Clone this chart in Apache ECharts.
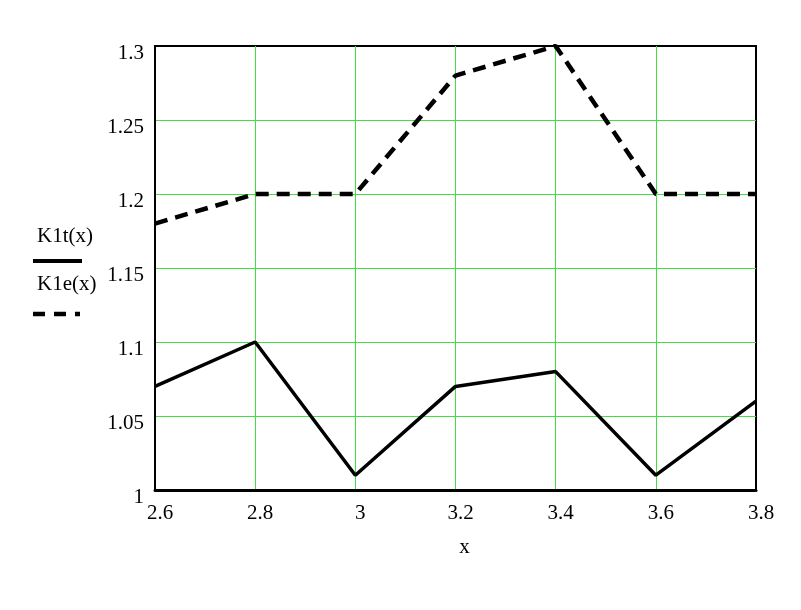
<!DOCTYPE html>
<html>
<head>
<meta charset="utf-8">
<script src="https://cdn.jsdelivr.net/npm/echarts@6/dist/echarts.min.js"></script>
<style>html,body{margin:0;padding:0;background:#fff}#c{width:801px;height:610px}</style>
</head>
<body>
<div id="c"></div>
<script>
var xValues = [2.6, 2.8, 3.0, 3.2, 3.4, 3.6, 3.8];
var k1t = [1.07, 1.10, 1.01, 1.07, 1.08, 1.01, 1.06];
var k1e = [1.18, 1.20, 1.20, 1.28, 1.30, 1.20, 1.20];
var seriesNames = ['K1t(x)', 'K1e(x)'];
var xAxisTitle = 'x';

var FONT = '"Liberation Serif", "Times New Roman", serif';
var chart = echarts.init(document.getElementById('c'), null, {renderer: 'canvas'});
function pairs(xs, ys) { return xs.map(function (x, i) { return [x, ys[i]]; }); }

chart.setOption({
  animation: false,
  backgroundColor: '#ffffff',
  grid: {left: 155, right: 45, top: 46, bottom: 120, show: true, borderColor: '#000', borderWidth: 2, containLabel: false},
  xAxis: {
    type: 'value', min: 2.6, max: 3.8, interval: 0.2,
    name: xAxisTitle, nameLocation: 'middle', nameGap: 47,
    nameTextStyle: {fontFamily: FONT, fontSize: 21, color: '#000', padding: [0, 0, 0, 18]},
    axisLine: {show: true, lineStyle: {color: '#000', width: 3}},
    axisTick: {show: false},
    axisLabel: {fontFamily: FONT, fontSize: 21, color: '#000', margin: 13, padding: [0, 0, 0, 10],
      formatter: function (v) { return String(Math.round(v * 10) / 10); }},
    splitLine: {show: true, showMinLine: false, showMaxLine: false, lineStyle: {color: '#3fe03f', width: 1}}
  },
  yAxis: {
    type: 'value', min: 1.0, max: 1.3, interval: 0.05,
    axisLine: {show: true, lineStyle: {color: '#000', width: 2}},
    axisTick: {show: false},
    axisLabel: {fontFamily: FONT, fontSize: 21, color: '#000', margin: 11, verticalAlign: 'top', lineHeight: 14,
      formatter: function (v) { return String(Math.round(v * 100) / 100); }},
    splitLine: {show: true, showMinLine: false, showMaxLine: false, lineStyle: {color: '#3fe03f', width: 1}}
  },
  series: [
    {name: seriesNames[0], type: 'line', data: pairs(xValues, k1t), showSymbol: false, symbol: 'none',
      lineStyle: {color: '#000', width: 3.5, type: 'solid'}, z: 5},
    {name: seriesNames[1], type: 'line', data: pairs(xValues, k1e), showSymbol: false, symbol: 'none',
      lineStyle: {color: '#000', width: 4.5, type: [13, 8]}, z: 5}
  ],
  graphic: [
    {type: 'text', left: 37, top: 226, style: {text: seriesNames[0], font: '21px ' + FONT, fill: '#000'}},
    {type: 'line', shape: {x1: 33, y1: 261, x2: 82, y2: 261}, style: {stroke: '#000', lineWidth: 4}},
    {type: 'text', left: 37, top: 274, style: {text: seriesNames[1], font: '21px ' + FONT, fill: '#000'}},
    {type: 'line', shape: {x1: 33, y1: 314, x2: 80, y2: 314}, style: {stroke: '#000', lineWidth: 4.5, lineDash: [12, 9]}}
  ]
});
</script>
</body>
</html>
